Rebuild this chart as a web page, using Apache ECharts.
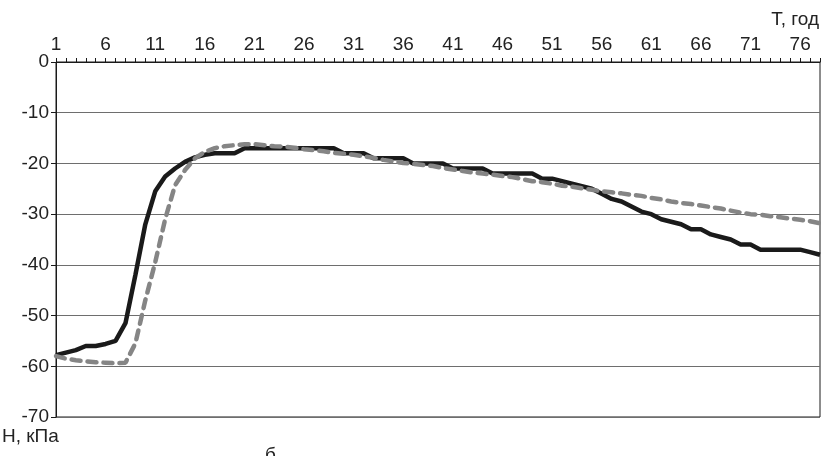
<!DOCTYPE html>
<html>
<head>
<meta charset="UTF-8">
<script src="https://cdn.jsdelivr.net/npm/echarts@6/dist/echarts.min.js"></script>
<title></title>
</head>
<body style="margin:0">
<div id="main" style="width:822px;height:456px"></div>
<script type="text/javascript">
// годы 1..78
var years = [];
for (var i = 1; i <= 78; i++) years.push(String(i));

// сплошная чёрная линия
var seriesA = [
  -57.8, -57.3, -56.8, -56, -56, -55.6, -55, -51.5, -42, -32,
  -25.5, -22.6, -21, -19.7, -18.8, -18.3, -18, -18, -18, -17,
  -17, -17, -17, -17, -17, -17, -17, -17, -17, -18,
  -18, -18, -19, -19, -19, -19, -20, -20, -20, -20,
  -21, -21, -21, -21, -22, -22, -22, -22, -22, -23,
  -23, -23.5, -24, -24.5, -25, -26, -27, -27.5, -28.5, -29.5,
  -30, -31, -31.5, -32, -33, -33, -34, -34.5, -35, -36,
  -36, -37, -37, -37, -37, -37, -37.5, -38
];

// пунктирная серая линия
var seriesB = [
  -58, -58.5, -58.8, -59, -59.2, -59.3, -59.4, -59.3, -55.5, -47,
  -39.5, -31, -24.3, -21.3, -19, -17.7, -17, -16.6, -16.4, -16.2,
  -16.2, -16.4, -16.6, -16.7, -16.9, -17.2, -17.4, -17.6, -17.9, -18.1,
  -18.3, -18.6, -18.9, -19.3, -19.6, -19.9, -20.1, -20.3, -20.5, -20.9,
  -21.2, -21.5, -21.8, -22, -22.2, -22.5, -22.7, -23.1, -23.5, -23.7,
  -24, -24.4, -24.6, -24.9, -25.2, -25.5, -25.7, -25.9, -26.2, -26.4,
  -26.8, -27.1, -27.5, -27.8, -28, -28.3, -28.6, -28.9, -29.3, -29.7,
  -30, -30.1, -30.4, -30.6, -30.9, -31.1, -31.4, -31.8
];

var font = 'Liberation Sans';
var myChart = echarts.init(document.getElementById('main'));

var option = {
  animation: false,
  grid: {
    left: 56, right: 2, top: 62, bottom: 39,
    show: true, borderColor: '#1a1a1a', borderWidth: 1
  },
  xAxis: {
    type: 'category',
    position: 'top',
    data: years,
    boundaryGap: false,
    axisLine: { lineStyle: { color: '#1a1a1a', width: 1 } },
    axisTick: { interval: 0, length: 4, lineStyle: { color: '#1a1a1a' } },
    axisLabel: { interval: 4, margin: 8, fontFamily: font, fontSize: 19, color: '#222' },
    splitLine: { show: false }
  },
  yAxis: {
    type: 'value',
    min: -70, max: 0, interval: 10,
    axisLine: { show: true, lineStyle: { color: '#1a1a1a', width: 1 } },
    axisTick: { show: true, length: 5, lineStyle: { color: '#1a1a1a' } },
    axisLabel: { margin: 7, fontFamily: font, fontSize: 19, color: '#222' },
    splitLine: { lineStyle: { color: '#6e6e6e', width: 1 } }
  },
  series: [
    {
      type: 'line', data: seriesA, symbol: 'none',
      lineStyle: { color: '#1a1a1a', width: 4.5 }
    },
    {
      type: 'line', data: seriesB, symbol: 'none',
      lineStyle: { color: '#858585', width: 4.5, type: [9, 7], cap: 'round' }
    }
  ],
  graphic: [
    { type: 'text', right: 3, top: 10, style: { text: 'T, год', font: '19px ' + font, fill: '#222' } },
    { type: 'text', left: 2, top: 427, style: { text: 'H, кПа', font: '19px ' + font, fill: '#222' } },
    { type: 'text', left: 265, top: 446, style: { text: 'б', font: '19px ' + font, fill: '#222' } }
  ]
};

myChart.setOption(option);
</script>
</body>
</html>
